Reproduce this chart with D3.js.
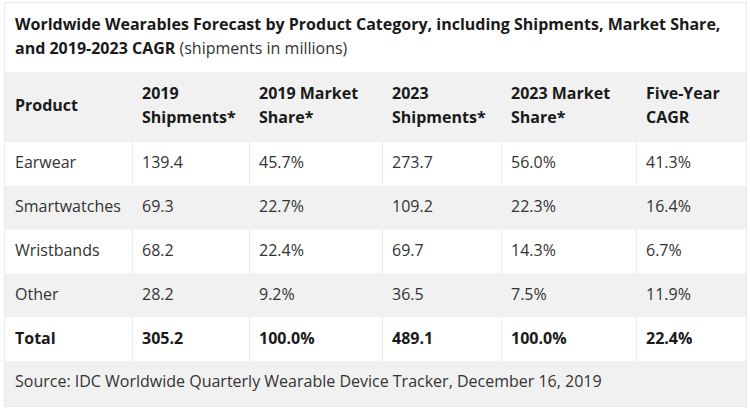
<!DOCTYPE html>
<html><head><meta charset="utf-8">
<script src="https://cdn.jsdelivr.net/npm/d3@7"></script>
<style>
html,body{margin:0;padding:0;background:#fff;}
svg{display:block;font-family:"Open Sans",sans-serif;}
</style></head><body>
<svg id="c" width="750" height="408"></svg>
<script>
const titleLine1 = "Worldwide Wearables Forecast by Product Category, including Shipments, Market Share,";
const titleLine2Bold = "and 2019-2023 CAGR";
const titleLine2Reg = " (shipments in millions)";
const headers = [["Product"],["2019","Shipments*"],["2019 Market","Share*"],["2023","Shipments*"],["2023 Market","Share*"],["Five-Year","CAGR"]];
const products = ["Earwear","Smartwatches","Wristbands","Other"];
const ship2019 = ["139.4","69.3","68.2","28.2"];
const share2019 = ["45.7%","22.7%","22.4%","9.2%"];
const ship2023 = ["273.7","109.2","69.7","36.5"];
const share2023 = ["56.0%","22.3%","14.3%","7.5%"];
const cagr = ["41.3%","16.4%","6.7%","11.9%"];
const totalRow = ["Total","305.2","100.0%","489.1","100.0%","22.4%"];
const source = "Source: IDC Worldwide Quarterly Wearable Device Tracker, December 16, 2019";

const svg = d3.select("#c");
const L = 5, R = 746;
const colEdges = [5,132,249,382,501,636,746];
const colIdx = d3.range(6);
const colX = i => colEdges[i];
const pad = 10;
const gray = "#f1f1f1", lineC = "#ebebeb", txt = "#333", bold = "#1a1a1a";
const DY = "0.28em";

const rows = products.map((p,i)=>[p,ship2019[i],share2019[i],ship2023[i],share2023[i],cagr[i]]);
rows.push(totalRow);
const yBody = d3.scaleBand().domain(d3.range(rows.length)).range([142, 361]);

// title area
svg.append("rect").attr("x",L).attr("y",3).attr("width",R-L).attr("height",69).attr("fill","#fff");
const t = svg.append("text").attr("x",L+10).attr("font-size",16).attr("fill",bold);
t.append("tspan").attr("x",L+10).attr("y",30).attr("font-weight",700).text(titleLine1);
t.append("tspan").attr("x",L+10).attr("y",54).attr("font-weight",700).text(titleLine2Bold);
t.append("tspan").attr("font-weight",400).attr("fill",txt).text(titleLine2Reg);

// header
svg.append("rect").attr("x",L).attr("y",72).attr("width",R-L).attr("height",70).attr("fill",gray);
colIdx.forEach(i=>{
  const h = headers[i];
  const cy = 107;
  const lh = 24;
  const g = svg.append("text").attr("font-size",16).attr("font-weight",700).attr("fill",bold);
  h.forEach((s,k)=>{
    g.append("tspan").attr("x",colX(i)+pad).attr("y", cy - (h.length-1)*lh/2 + k*lh).attr("dy",DY).text(s);
  });
});

// body rows
rows.forEach((r,ri)=>{
  const y0 = yBody(ri), bh = yBody.bandwidth();
  const isGray = ri%2===1;
  const isTotal = ri===rows.length-1;
  svg.append("rect").attr("x",L).attr("y",y0).attr("width",R-L).attr("height",bh).attr("fill",isGray?gray:"#fff");
  colIdx.forEach(i=>{
    if(i>0 && !isGray){
      svg.append("line").attr("x1",colX(i)+0.5).attr("x2",colX(i)+0.5).attr("y1",y0).attr("y2",y0+bh).attr("stroke",lineC);
    }
    svg.append("text").attr("x",colX(i)+pad).attr("y",y0+bh/2).attr("dy",DY)
      .attr("font-size",16).attr("font-weight",isTotal?700:400).attr("fill",isTotal?bold:txt).text(r[i]);
  });
});

// source
svg.append("rect").attr("x",L).attr("y",361).attr("width",R-L).attr("height",45).attr("fill",gray);
svg.append("text").attr("x",L+10).attr("y",383).attr("dy",DY).attr("font-size",16).attr("fill",txt).text(source);

// outer border
svg.append("rect").attr("x",L-0.5).attr("y",2.5).attr("width",R-L+1).attr("height",404).attr("fill","none").attr("stroke","#eaeaea");
</script></body></html>
